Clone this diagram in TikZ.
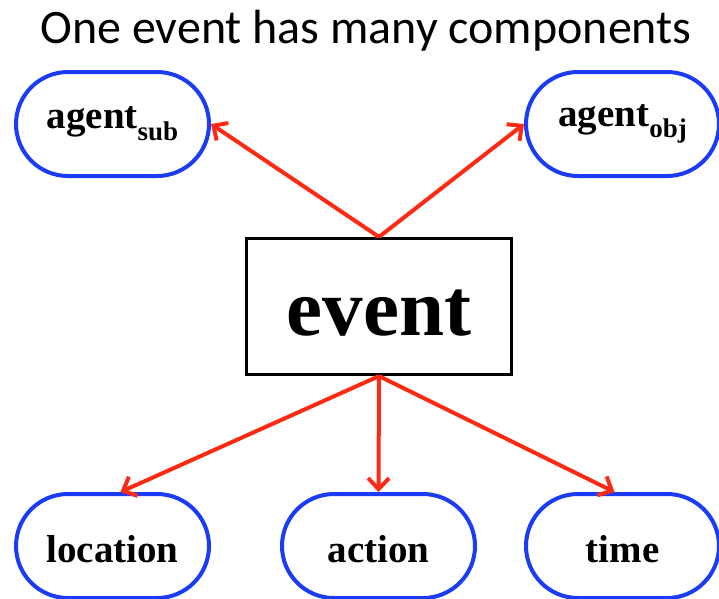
\documentclass[tikz,border=0pt]{standalone}
\usepackage{fontspec}
\setmainfont{Liberation Serif}
\newfontfamily\titlefont{Carlito}
\usetikzlibrary{arrows.meta}
\definecolor{linkred}{HTML}{FF2A14}
\definecolor{ovalblue}{HTML}{1A3CF5}
\tikzset{
  part/.style={draw=ovalblue, line width=4pt, rounded corners=52pt,
    minimum width=193pt, minimum height=104pt, inner sep=0pt,
    font=\bfseries\fontsize{39}{40}\selectfont},
  core/.style={draw=black, line width=3.2pt, minimum width=265pt,
    minimum height=136pt, inner sep=0pt,
    font=\bfseries\fontsize{81}{84}\selectfont},
  link/.style={draw=linkred, line width=4pt,
    -{Straight Barb[length=11pt,width=21pt,line width=4pt]}}
}
% subscript set a little lower and larger than \textsubscript
\newcommand{\lowsub}[1]{\raisebox{-0.3em}{\fontsize{27}{28}\selectfont #1}}
% lower text inside its box without changing the box size
\newcommand{\dropby}[2]{\raisebox{-#1}[\height][\depth]{#2}}
\begin{document}
\begin{tikzpicture}[x=1pt,y=-1pt]
  \useasboundingbox (0,0) rectangle (719,598);
  \node[font=\titlefont\fontsize{48}{50}\selectfont, anchor=base] (title) at (366,43) {One event has many components};
  \node[core] (event) at (379,306.5) {\dropby{7pt}{event}};
  \node[part] (sub) at (112.5,124) {agent\lowsub{sub}};
  \node[part] (obj) at (622.5,124) {agent\lowsub{obj}};
  \node[part] (loc) at (112.5,546) {\dropby{3pt}{location}};
  \node[part] (act) at (378.5,546) {\dropby{3pt}{action}};
  \node[part] (tim) at (622.5,546) {\dropby{3pt}{time}};
  \draw[link] (event.north) -- (sub.east);
  \draw[link] (event.north) -- (obj.west);
  \draw[link] (event.south) -- ([xshift=8pt]loc.north);
  \draw[link] (event.south) -- (act.north);
  \draw[link] (event.south) -- ([xshift=-8pt]tim.north);
\end{tikzpicture}
\end{document}
